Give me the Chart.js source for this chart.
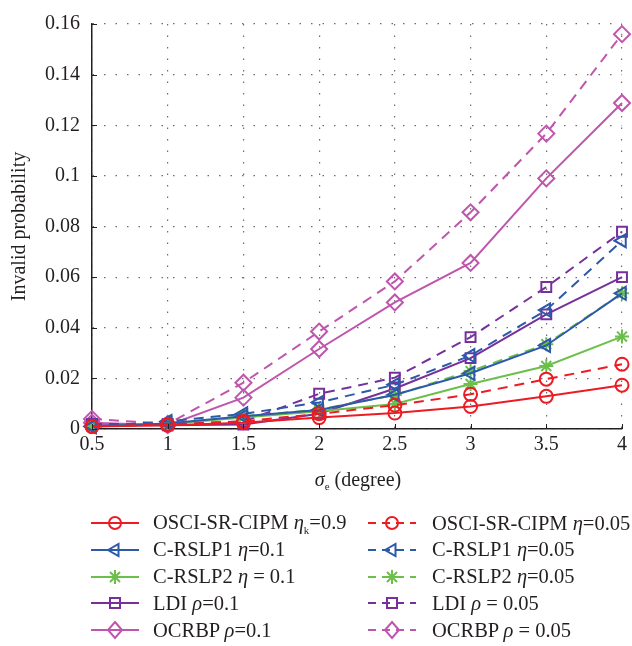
<!DOCTYPE html>
<html>
<head>
<meta charset="utf-8">
<script src="https://cdn.jsdelivr.net/npm/chart.js@4.4.1/dist/chart.umd.min.js"></script>
<style>
html,body{margin:0;padding:0;background:#fff;}
#wrap{position:relative;width:632px;height:646px;font-family:"Liberation Serif","DejaVu Serif",serif;color:#231f20;overflow:hidden;}
#c{position:absolute;left:0;top:0;}
#xt{position:absolute;top:467px;left:258px;width:200px;text-align:center;font-size:20px;line-height:24px;}
#xt sub{font-size:11px;vertical-align:-4px;font-style:normal;}
.leg{position:absolute;height:26px;display:flex;align-items:center;font-size:20.5px;white-space:nowrap;}
.leg svg{flex:none;}
.leg sub{font-size:11px;vertical-align:-5px;}
</style>
</head>
<body>
<div id="wrap">
<canvas id="c" width="632" height="500"></canvas>
<div id="xt"><i>σ</i><sub>e</sub> (degree)</div>
<div id="legend"></div>
</div>
<script>
// ---- data ----
const sigmaE = [0.5, 1, 1.5, 2, 2.5, 3, 3.5, 4];
const osciSolid  = [0.0010, 0.0015, 0.0025, 0.0045, 0.0063, 0.0089, 0.0129, 0.0173];
const osciDashed = [0.0010, 0.0018, 0.0030, 0.0060, 0.0094, 0.0137, 0.0197, 0.0256];
const crslp1Solid  = [0.0010, 0.0022, 0.0050, 0.0075, 0.0135, 0.0220, 0.0330, 0.0536];
const crslp1Dashed = [0.0010, 0.0030, 0.0060, 0.0105, 0.0175, 0.0290, 0.0470, 0.0744];
const crslp2Solid  = [0.0010, 0.0020, 0.0045, 0.0070, 0.0099, 0.0178, 0.0249, 0.0365];
const crslp2Dashed = [0.0010, 0.0020, 0.0050, 0.0077, 0.0134, 0.0229, 0.0335, 0.0536];
const ldiSolid  = [0.0015, 0.0015, 0.0018, 0.0060, 0.0160, 0.0280, 0.0453, 0.0600];
const ldiDashed = [0.0020, 0.0020, 0.0030, 0.0139, 0.0203, 0.0363, 0.0561, 0.0779];
const ocrbpSolid  = [0.0025, 0.0015, 0.0124, 0.0316, 0.0500, 0.0656, 0.0990, 0.1288];
const ocrbpDashed = [0.0040, 0.0020, 0.0183, 0.0385, 0.0583, 0.0856, 0.1167, 0.1560];
const xTickValues = [0.5, 1, 1.5, 2, 2.5, 3, 3.5, 4];
const xTickLabels = ["0.5", "1", "1.5", "2", "2.5", "3", "3.5", "4"];
const yTickValues = [0, 0.02, 0.04, 0.06, 0.08, 0.1, 0.12, 0.14, 0.16];
const yTickLabels = ["0", "0.02", "0.04", "0.06", "0.08", "0.1", "0.12", "0.14", "0.16"];
const seriesLabels = [
  'OSCI-SR-CIPM <i>η</i><sub>k</sub>=0.9', 'OSCI-SR-CIPM <i>η</i>=0.05',
  'C-RSLP1 <i>η</i>=0.1', 'C-RSLP1 <i>η</i>=0.05',
  'C-RSLP2 <i>η</i> = 0.1', 'C-RSLP2 <i>η</i>=0.05',
  'LDI <i>ρ</i>=0.1', 'LDI <i>ρ</i> = 0.05',
  'OCRBP <i>ρ</i>=0.1', 'OCRBP <i>ρ</i> = 0.05'
];

// ---- styles ----
const RED = '#ec1c24', BLUE = '#2d59a9', GREEN = '#6cbf4b', PURPLE = '#76309c', PINK = '#c055ad';
const DASH = [10, 7];
const seriesDefs = [
  {data: osciSolid,   color: RED,    dash: [],   marker: 'circle',   r: 6.5, rot: 0},
  {data: osciDashed,  color: RED,    dash: DASH, marker: 'circle',   r: 6.5, rot: 0},
  {data: crslp1Solid, color: BLUE,   dash: [],   marker: 'triangle', r: 7.5, rot: -90},
  {data: crslp1Dashed,color: BLUE,   dash: DASH, marker: 'triangle', r: 7.5, rot: -90},
  {data: crslp2Solid, color: GREEN,  dash: [],   marker: 'star',     r: 7, rot: 0},
  {data: crslp2Dashed,color: GREEN,  dash: DASH, marker: 'star',     r: 7, rot: 0},
  {data: ldiSolid,    color: PURPLE, dash: [],   marker: 'rect',     r: 7, rot: 0},
  {data: ldiDashed,   color: PURPLE, dash: DASH, marker: 'rect',     r: 7, rot: 0},
  {data: ocrbpSolid,  color: PINK,   dash: [],   marker: 'rectRot',  r: 8, rot: 0},
  {data: ocrbpDashed, color: PINK,   dash: DASH, marker: 'rectRot',  r: 8, rot: 0}
];

const datasets = seriesDefs.map((s, i) => ({
  label: seriesLabels[i].replace(/<[^>]+>/g, ''),
  data: sigmaE.map((x, k) => ({x: x, y: s.data[k]})),
  borderColor: s.color,
  backgroundColor: 'rgba(0,0,0,0)',
  borderWidth: 2,
  borderDash: s.dash,
  pointStyle: s.marker,
  pointRadius: s.r,
  pointHoverRadius: s.r,
  pointRotation: s.rot,
  pointBorderColor: s.color,
  pointBackgroundColor: 'rgba(255,255,255,0)',
  pointBorderWidth: 2,
  tension: 0,
  fill: false,
  clip: false
}));

const FONT = {family: '"Liberation Serif", "DejaVu Serif", serif', size: 20};
const INK = '#231f20';

const innerTicks = {
  id: 'innerTicks',
  afterDatasetsDraw(chart) {
    const {ctx, chartArea: a, scales: {x, y}} = chart;
    ctx.save();
    ctx.strokeStyle = INK;
    ctx.lineWidth = 1;
    ctx.beginPath();
    x.ticks.forEach(t => { const p = Math.round(x.getPixelForValue(t.value)) + 0.5; ctx.moveTo(p, a.bottom); ctx.lineTo(p, a.bottom - 5); });
    y.ticks.forEach(t => { const p = Math.round(y.getPixelForValue(t.value)) + 0.5; ctx.moveTo(a.left, p); ctx.lineTo(a.left + 5, p); });
    ctx.stroke();
    ctx.restore();
  }
};

new Chart(document.getElementById('c'), {
  type: 'line',
  data: {datasets: datasets},
  plugins: [innerTicks],
  options: {
    responsive: false,
    animation: false,
    events: [],
    layout: {padding: {left: 0, top: 12, right: 7, bottom: 0}},
    plugins: {legend: {display: false}, tooltip: {enabled: false}, title: {display: false}},
    scales: {
      x: {
        type: 'linear',
        min: 0.5, max: 4,
        afterBuildTicks: s => { s.ticks = xTickValues.map(v => ({value: v})); },
        afterFit: s => { s.height = 71; },
        ticks: {
          font: FONT, color: INK, padding: 4, maxRotation: 0,
          callback: (v) => xTickLabels[xTickValues.indexOf(v)]
        },
        grid: {color: '#6d6d6d', lineWidth: 1.2, drawTicks: false},
        border: {display: true, color: INK, width: 1.5, dash: [1.5, 10]}
      },
      y: {
        type: 'linear',
        min: 0, max: 0.16,
        afterBuildTicks: s => { s.ticks = yTickValues.map(v => ({value: v})); },
        afterFit: s => { s.width = 92; },
        ticks: {
          font: FONT, color: INK, padding: 12,
          callback: (v) => { const i = yTickValues.findIndex(t => Math.abs(t - v) < 1e-9); return i >= 0 ? yTickLabels[i] : ''; }
        },
        grid: {color: '#6d6d6d', lineWidth: 1.2, drawTicks: false},
        border: {display: true, color: INK, width: 1.5, dash: [1.5, 10]},
        title: {display: true, text: 'Invalid probability', font: FONT, color: INK, padding: {top: 8, bottom: 0}}
      }
    }
  }
});

// ---- HTML legend (two columns) ----
function markerSVG(s, cx, cy) {
  const c = s.color;
  const st = `fill="none" stroke="${c}" stroke-width="2"`;
  switch (s.marker) {
    case 'circle': return `<circle cx="${cx}" cy="${cy}" r="6" ${st}/>`;
    case 'triangle': return `<polygon points="${cx-7},${cy} ${cx+3.5},${cy-6} ${cx+3.5},${cy+6}" ${st}/>`;
    case 'star': return `<path d="M${cx-7},${cy}H${cx+7}M${cx},${cy-7}V${cy+7}M${cx-5},${cy-5}L${cx+5},${cy+5}M${cx-5},${cy+5}L${cx+5},${cy-5}" ${st}/>`;
    case 'rect': return `<rect x="${cx-5}" y="${cy-5}" width="10" height="10" ${st}/>`;
    case 'rectRot': return `<polygon points="${cx},${cy-8} ${cx+7},${cy} ${cx},${cy+8} ${cx-7},${cy}" ${st}/>`;
  }
  return '';
}
const legendEl = document.getElementById('legend');
seriesDefs.forEach((s, i) => {
  const col = i % 2, row = Math.floor(i / 2);
  const left = col === 0 ? 91 : 368;
  const gap = col === 0 ? 14 : 16;
  const top = 510 + row * 26.8;
  const dashAttr = s.dash.length ? `stroke-dasharray="8,6"` : '';
  const d = document.createElement('div');
  d.className = 'leg';
  d.style.left = left + 'px';
  d.style.top = top + 'px';
  d.innerHTML = `<svg width="48" height="26" viewBox="0 0 48 26">` +
    `<line x1="0" y1="13" x2="48" y2="13" stroke="${s.color}" stroke-width="2" ${dashAttr}/>` +
    markerSVG(s, 24, 13) + `</svg><span style="margin-left:${gap}px">${seriesLabels[i]}</span>`;
  legendEl.appendChild(d);
});
</script>
</body>
</html>
